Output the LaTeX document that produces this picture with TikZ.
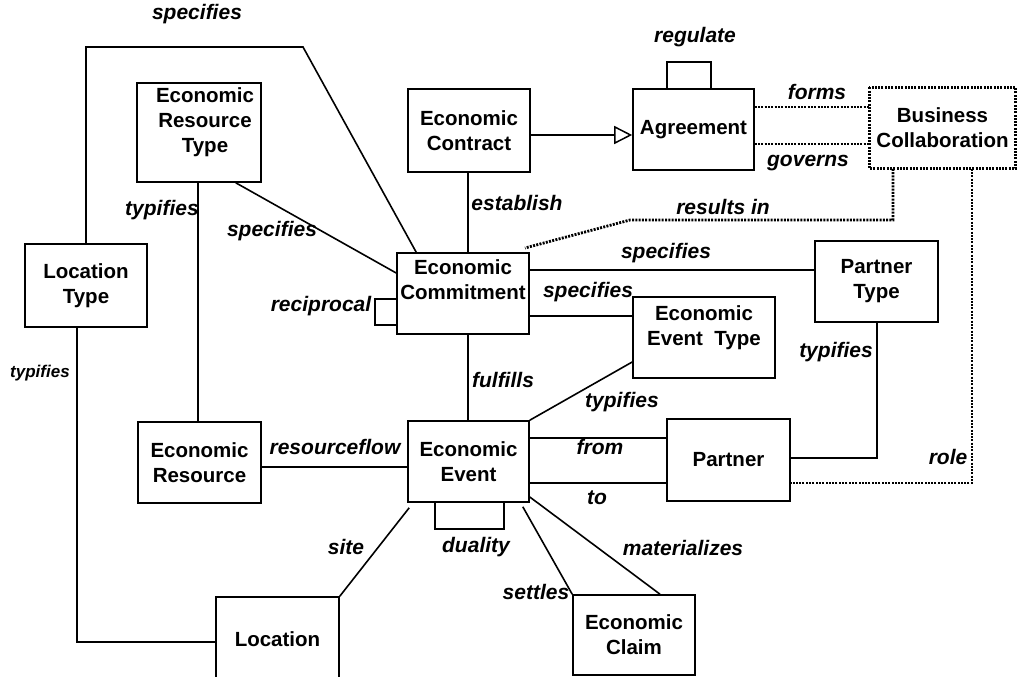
\documentclass[tikz,border=0pt]{standalone}
\usepackage{fontspec}
\setmainfont{Liberation Sans}
\usetikzlibrary{arrows.meta}
\begin{document}
\begin{tikzpicture}[x=1pt,y=-1pt,
  box/.style={draw, line width=1.6pt, rectangle, align=center, inner sep=0pt,
    font=\fontsize{20.5}{25}\selectfont\bfseries},
  btxt/.style={align=center, inner sep=0pt, font=\fontsize{20.5}{25}\selectfont\bfseries},
  lbl/.style={inner sep=0pt, font=\fontsize{21}{24}\selectfont\bfseries\itshape},
  slbl/.style={inner sep=0pt, font=\fontsize{17}{20}\selectfont\bfseries\itshape},
  conn/.style={line width=1.6pt},
  dots/.style={line width=2.8pt, dash pattern=on 2pt off 1.3pt},
  dotbox/.style={box, draw=none}
]
\clip (0,0) rectangle (1017,677);
\fill[white] (0,0) rectangle (1017,677);

% boxes
\node[box, minimum width=124pt, minimum height=99pt] (ert) at (199,132.5) {};
\node[btxt] (ertt) at (205,122) {Economic\\Resource\\Type};
\node[box, minimum width=122pt, minimum height=83pt] (lt) at (86,285.5) {Location\\Type};
\node[box, minimum width=122pt, minimum height=83pt] (con) at (469,130.5) {Economic\\Contract};
\node[box, minimum width=121pt, minimum height=81pt] (agr) at (693.5,129.5) {Agreement};
\node[dotbox, minimum width=145pt, minimum height=80pt] (bc) at (942.5,128) {Business\\Collaboration};
\draw[dots] (bc.north west) rectangle (bc.south east);
\node[box, minimum width=132pt, minimum height=81pt] (com) at (463,293.5) {};
\node[btxt] (comt) at (463,279.5) {Economic\\Commitment};
\node[box, minimum width=142pt, minimum height=81pt] (et) at (704,337.5) {};
\node[btxt] (ett) at (704,327.5) {Economic\\Event~~Type};
\node[box, minimum width=123pt, minimum height=81pt] (pt) at (876.5,281.5) {Partner\\Type};
\node[box, minimum width=123pt, minimum height=81pt] (er) at (199.5,462.5) {Economic\\Resource};
\node[box, minimum width=121pt, minimum height=81pt] (ev) at (468.5,461.5) {Economic\\Event};
\node[box, minimum width=123pt, minimum height=82pt] (par) at (728.5,460) {Partner};
\node[box, minimum width=123pt, minimum height=84pt] (loc) at (277.5,639) {Location};
\node[box, minimum width=122pt, minimum height=80pt] (cl) at (634,635) {Economic\\Claim};

% helper coordinates
\coordinate (s1) at (303,47);
\coordinate (ri) at (525,248);
\coordinate (ri2) at (630,220);

% connectors
\draw[conn] (lt.north) |- (s1) -- ([xshift=20pt]com.north west);
\draw[conn] ([xshift=-26pt]ert.south east) -- (com.west |- 0,273);
\draw[conn] (ert.south -| 198,0) -- (er.north -| 198,0);
\draw[conn] (lt.south -| 77,0) |- (loc.west |- 0,642);
\draw[conn] (com.west |- 0,299) -| (375,325) -- (com.west |- 0,325);
\draw[conn] (con.south -| 468,0) -- (com.north -| 468,0);
\draw[conn, -{Triangle[open, length=18pt, width=18pt, line width=1.5pt]}] (con.east |- 0,135) -- (agr.west |- 0,135);
\draw[conn] (agr.north -| 667,0) |- (711,62) -- (agr.north -| 711,0);
\draw[dots] (agr.east |- 0,107) -- (bc.west |- 0,107);
\draw[dots] (agr.east |- 0,144) -- (bc.west |- 0,144);
\draw[dots] (bc.south -| 893,0) |- (ri2) -- (ri);
\draw[dots] (bc.south -| 972,0) |- (par.east |- 0,483);
\draw[conn] (pt.south -| 877,0) |- (par.east |- 0,458);
\draw[conn] (com.east |- 0,270) -- (pt.west |- 0,270);
\draw[conn] (com.east |- 0,316) -- (et.west |- 0,316);
\draw[conn] (com.south -| 468,0) -- (ev.north -| 468,0);
\draw[conn] (et.west |- 0,362) -- (ev.north east);
\draw[conn] (ev.east |- 0,438) -- (par.west |- 0,438);
\draw[conn] (ev.east |- 0,483) -- (par.west |- 0,483);
\draw[conn] (er.east |- 0,467) -- (ev.west |- 0,467);
\draw[conn] (ev.south -| 435,0) |- (504,529) -- (ev.south -| 504,0);
\draw[conn] ([shift={(2pt,-5pt)}]ev.south west) -- (loc.north east);
\draw[conn] ([shift={(-7pt,-4pt)}]ev.south east) -- (cl.north west);
\draw[conn] (ev.east |- 0,497) -- (cl.north -| 660,0);

% labels
\node[lbl] (l1) at (197,14) {specifies};
\node[lbl] (l2) at (162,210) {typifies};
\node[lbl] (l3) at (272,231) {specifies};
\node[lbl] (l4) at (517,203) {establish};
\node[lbl] (l5) at (695,37) {regulate};
\node[lbl] (l6) at (817,92) {forms};
\node[lbl] (l7) at (808,163) {governs};
\node[lbl] (l8) at (723,207) {results in};
\node[lbl] (l9) at (666,253) {specifies};
\node[lbl] (l10) at (588,292) {specifies};
\node[lbl] (l11) at (321,306) {reciprocal};
\node[slbl] (l12) at (40,373) {typifies};
\node[lbl] (l13) at (503,380) {fulfills};
\node[lbl] (l14) at (622,402) {typifies};
\node[lbl] (l15) at (836,352) {typifies};
\node[lbl] (l16) at (335,447) {resourceflow};
\node[lbl] (l17) at (600,447) {from};
\node[lbl] (l18) at (597,498) {to};
\node[lbl] (l19) at (948,457) {role};
\node[lbl] (l20) at (476,547) {duality};
\node[lbl] (l21) at (346,547) {site};
\node[lbl] (l22) at (536,592) {settles};
\node[lbl] (l23) at (683,548) {materializes};
\end{tikzpicture}
\end{document}
